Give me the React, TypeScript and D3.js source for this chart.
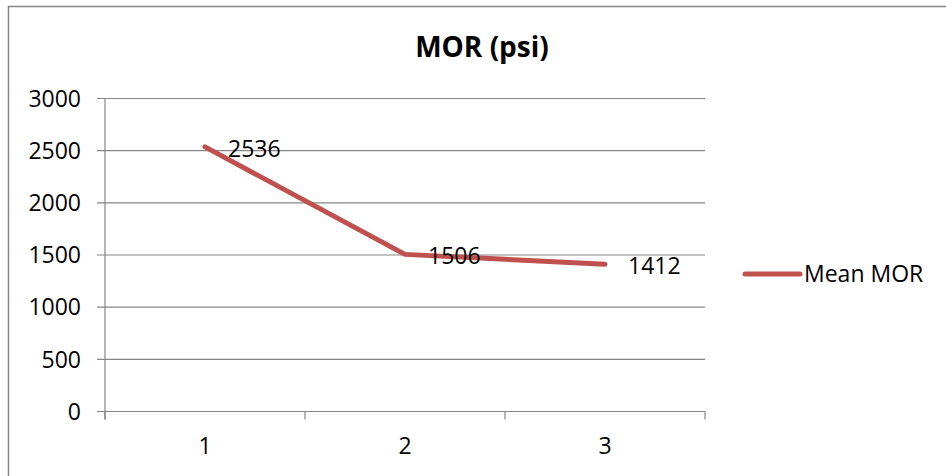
import React from "react";
import * as d3 from "d3";

const categories = ["1", "2", "3"];
const meanMOR = [2536, 1506, 1412];
const yTicks = [0, 500, 1000, 1500, 2000, 2500, 3000];
const seriesName = "Mean MOR";
const title = "MOR (psi)";

const W = 946;
const H = 476;
const plot = { left: 105, right: 705, top: 98.5, bottom: 411.5 };
const FONT = "'Open Sans', Calibri, sans-serif";
const GRID = "#868686";
const RED = "#C0504D";

export default function App() {
  const x = d3
    .scaleBand<string>()
    .domain(categories)
    .range([plot.left, plot.right])
    .paddingInner(0)
    .paddingOuter(0);
  const y = d3.scaleLinear().domain([0, 3000]).range([plot.bottom, plot.top]);
  const cx = (c: string) => (x(c) ?? 0) + x.bandwidth() / 2;

  const line = d3
    .line<number>()
    .x((_, i) => cx(categories[i]))
    .y((v) => y(v));

  const xBounds = [...categories.map((c) => x(c) ?? 0), plot.right];

  return (
    <svg
      width={W}
      height={H}
      style={{ position: "absolute", left: 0, top: 0, background: "#fff" }}
    >
      <rect x={8.5} y={6.5} width={W + 10} height={H + 10} fill="#fff" stroke={GRID} strokeWidth={1.5} />
      <text
        x={482}
        y={57}
        textAnchor="middle"
        fontFamily={FONT}
        fontWeight="bold"
        fontSize={28}
        fill="#000"
      >
        {title}
      </text>

      {yTicks.map((t) => (
        <g key={t}>
          <line
            x1={plot.left - 8}
            x2={t === 0 ? plot.right : plot.right}
            y1={y(t)}
            y2={y(t)}
            stroke={GRID}
            strokeWidth={1.2}
          />
          <text
            x={81}
            y={y(t)}
            dy="0.36em"
            textAnchor="end"
            fontFamily={FONT}
            fontSize={23}
            fill="#000"
          >
            {t}
          </text>
        </g>
      ))}

      <line x1={plot.left} x2={plot.left} y1={plot.top} y2={plot.bottom + 8} stroke={GRID} strokeWidth={1.2} />
      {xBounds.map((b, i) => (
        <line key={i} x1={b} x2={b} y1={plot.bottom} y2={plot.bottom + 8} stroke={GRID} strokeWidth={1.2} />
      ))}
      {categories.map((c) => (
        <text
          key={c}
          x={cx(c)}
          y={454}
          textAnchor="middle"
          fontFamily={FONT}
          fontSize={23}
          fill="#000"
        >
          {c}
        </text>
      ))}

      <path
        d={line(meanMOR) ?? ""}
        fill="none"
        stroke={RED}
        strokeWidth={5}
        strokeLinecap="round"
        strokeLinejoin="round"
      />
      {meanMOR.map((v, i) => (
        <text
          key={i}
          x={cx(categories[i]) + 23}
          y={y(v) + 1.5}
          dy="0.36em"
          fontFamily={FONT}
          fontSize={23}
          fill="#000"
        >
          {v}
        </text>
      ))}

      <line x1={745} x2={800} y1={274} y2={274} stroke={RED} strokeWidth={5} strokeLinecap="round" />
      <text x={804} y={274} dy="0.36em" fontFamily={FONT} fontSize={23} fill="#000">
        {seriesName}
      </text>
    </svg>
  );
}
